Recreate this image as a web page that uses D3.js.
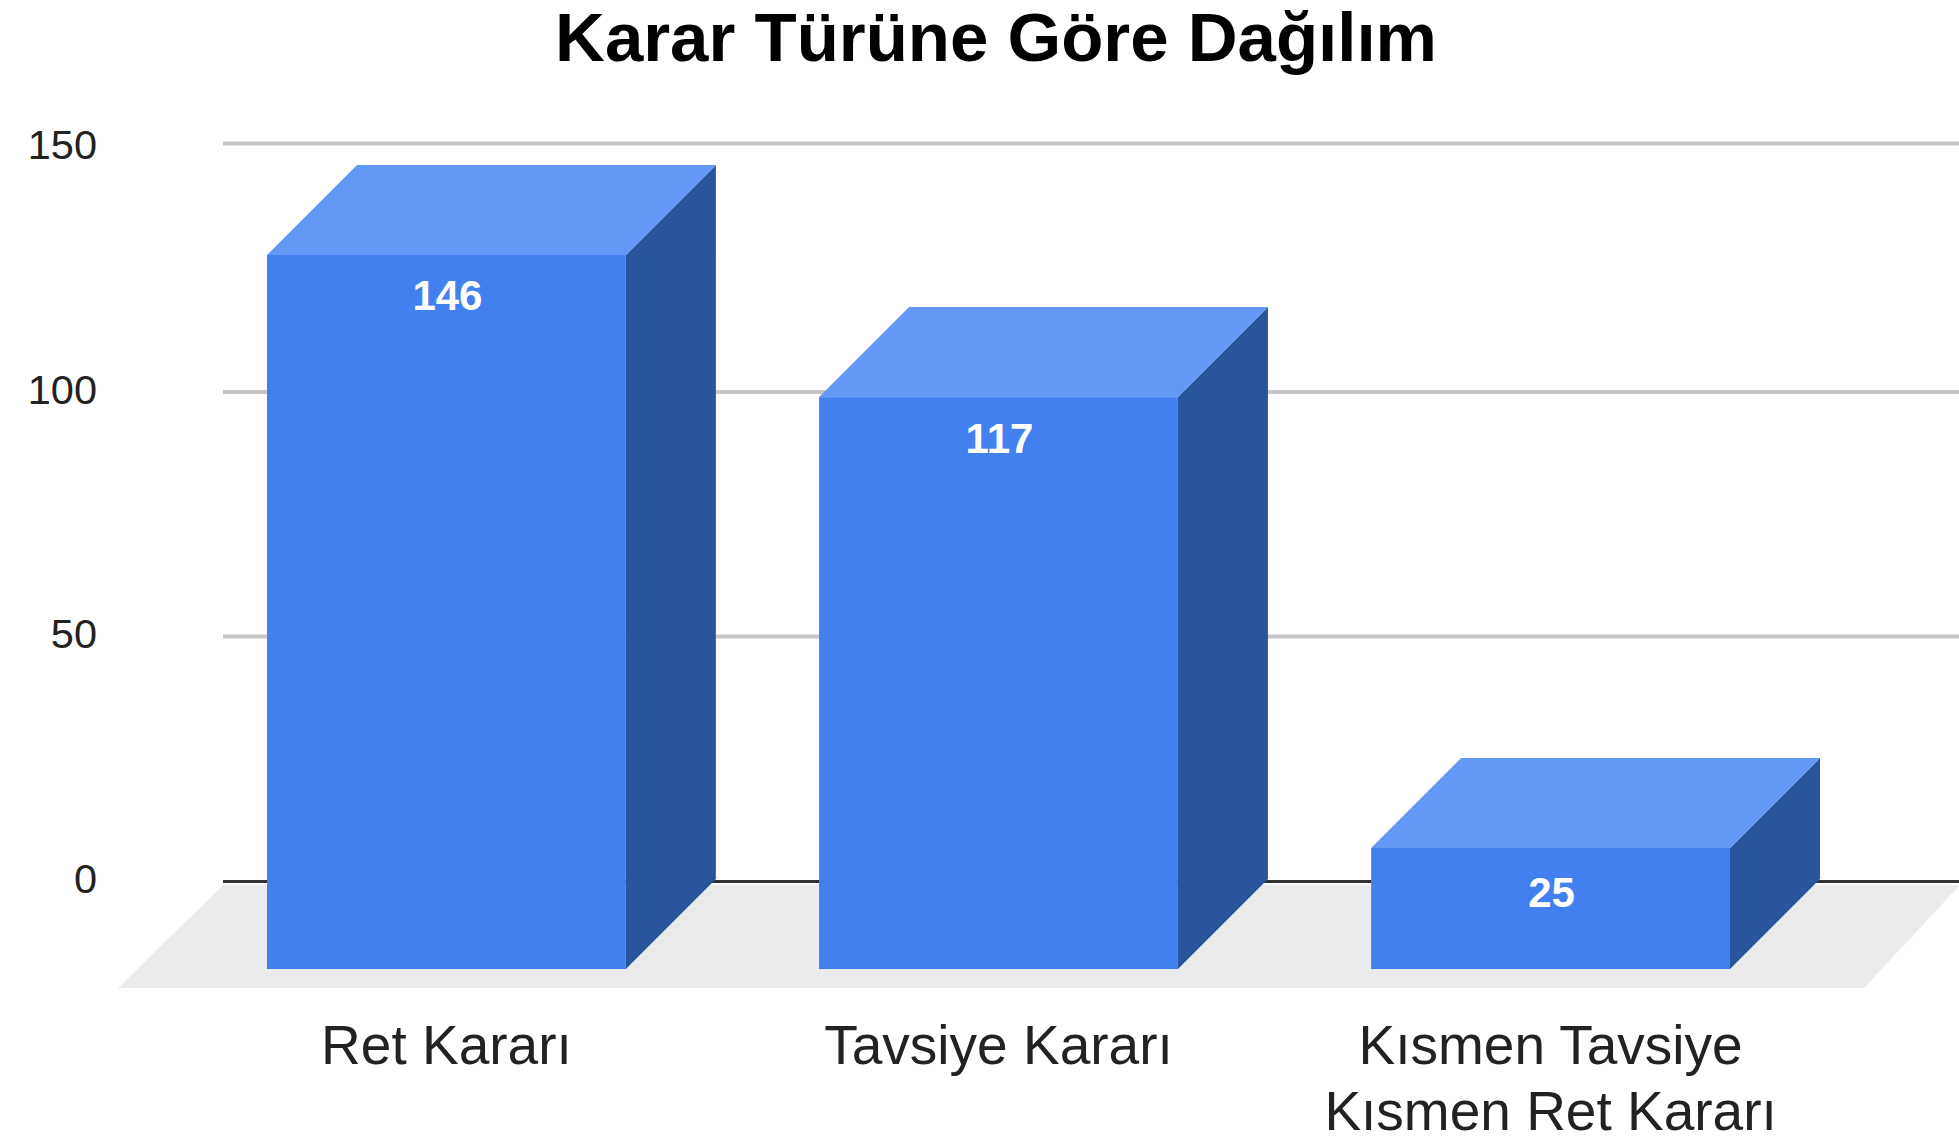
<!DOCTYPE html>
<html>
<head>
<meta charset="utf-8">
<script src="https://cdn.jsdelivr.net/npm/d3@7"></script>
<style>
  html, body { margin: 0; padding: 0; background: #fff; }
  svg { display: block; }
  text { font-family: "Liberation Sans", Arial, sans-serif; }
</style>
</head>
<body>
<div id="chart"></div>
<script>
// data
var categories = ['Ret Kararı', 'Tavsiye Kararı', 'Kısmen Tavsiye Kısmen Ret Kararı'];
var values = [146, 117, 25];
var yTicks = [0, 50, 100, 150];
var titleText = 'Karar Türüne Göre Dağılım';

// layout
var width = 1959, height = 1144;
var depth = 90; // 3d offset of the back of each bar
var wallLeft = 223;
var frontBase = 969;

var svg = d3.select('#chart').append('svg')
  .attr('width', width)
  .attr('height', height);

// back wall scale, used for the gridlines
var yWall = d3.scaleLinear().domain([0, 50, 100, 150]).range([881, 636, 391.5, 143]);
// tick labels do not sit exactly on their lines in the reference
var yTickLabel = d3.scaleLinear().domain([0, 50, 100, 150]).range([878, 633, 389, 144]);
// front face scale, the bars sit in front of the wall
var yBar = d3.scaleLinear().domain([25, 146]).range([848, 255]);
var yLabel = d3.scaleLinear().domain([25, 146]).range([907, 310]);
var x = d3.scaleBand().domain(categories).range([267, 1730]).paddingInner(0.35).paddingOuter(0);

svg.append('text')
  .attr('x', 996)
  .attr('y', 61)
  .attr('text-anchor', 'middle')
  .attr('font-size', 69)
  .attr('font-weight', 'bold')
  .attr('fill', '#000')
  .text(titleText);

// floor
svg.append('path')
  .attr('d', d3.line()([[wallLeft, 885], [width + 1, 885], [1864, 988], [118, 988]]) + 'Z')
  .attr('fill', '#ebebeb');

// y axis
var yAxis = svg.append('g')
  .attr('transform', 'translate(' + wallLeft + ',0)')
  .call(d3.axisLeft(yWall).tickValues(yTicks).tickSize(-(width - wallLeft)).tickPadding(126).tickFormat(d3.format('d')));
yAxis.select('.domain').remove();
yAxis.selectAll('.tick line')
  .attr('stroke', function(d) { return d === 0 ? '#333333' : '#c6c6c6'; })
  .attr('stroke-width', function(d) { return d === 0 ? 3 : 4; });
yAxis.selectAll('.tick text')
  .attr('font-size', 41.5)
  .attr('font-family', '"Liberation Sans", Arial, sans-serif')
  .attr('fill', '#222222')
  .attr('y', function(d) { return yTickLabel(d) - yWall(d); })
  .attr('dy', '0.35em');

// bars
var bar = svg.append('g').selectAll('g')
  .data(values)
  .enter().append('g');

function xLeft(d, i) { return x(categories[i]); }
function xRight(d, i) { return x(categories[i]) + x.bandwidth(); }

bar.append('path') // side
  .attr('fill', '#28559c')
  .attr('d', function(d, i) {
    var r = xRight(d, i);
    return d3.line()([[r, yBar(d)], [r + depth, yBar(d) - depth], [r + depth, frontBase - depth], [r, frontBase]]) + 'Z';
  });

bar.append('path') // top
  .attr('fill', '#6399f5')
  .attr('d', function(d, i) {
    var l = xLeft(d, i), r = xRight(d, i);
    return d3.line()([[l, yBar(d)], [l + depth, yBar(d) - depth], [r + depth, yBar(d) - depth], [r, yBar(d)]]) + 'Z';
  });

bar.append('rect') // front
  .attr('x', xLeft)
  .attr('y', function(d) { return yBar(d); })
  .attr('width', x.bandwidth())
  .attr('height', function(d) { return frontBase - yBar(d); })
  .attr('fill', '#4280ef');

bar.append('text')
  .attr('x', function(d, i) { return xLeft(d, i) + x.bandwidth() / 2 + 1; })
  .attr('y', function(d) { return yLabel(d); })
  .attr('text-anchor', 'middle')
  .attr('font-size', 42)
  .attr('font-weight', 'bold')
  .attr('fill', '#ffffff')
  .text(function(d) { return d; });

// x axis labels
var xAxis = svg.append('g')
  .attr('transform', 'translate(0,' + frontBase + ')')
  .call(d3.axisBottom(x).tickSize(0).tickFormat(''));
xAxis.select('.domain').remove();

var labelLines = { 'Kısmen Tavsiye Kısmen Ret Kararı': ['Kısmen Tavsiye', 'Kısmen Ret Kararı'] };
xAxis.selectAll('.tick text')
  .attr('font-size', 55)
  .attr('font-family', '"Liberation Sans", Arial, sans-serif')
  .attr('fill', '#222222')
  .attr('dy', 0)
  .each(function(d) {
    var el = d3.select(this);
    (labelLines[d] || [d]).forEach(function(line, i) {
      el.append('tspan')
        .attr('x', 0)
        .attr('y', 95 + i * 66)
        .text(line);
    });
  });
</script>
</body>
</html>
